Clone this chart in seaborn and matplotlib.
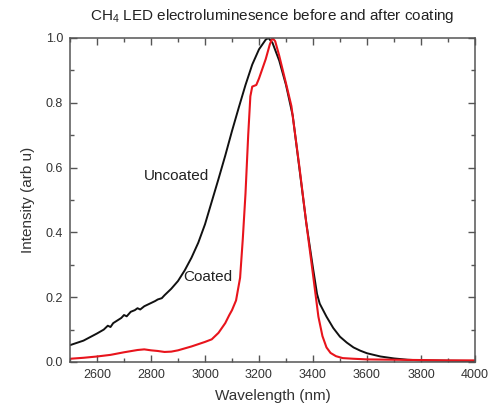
import matplotlib
matplotlib.use("Agg")
import matplotlib.pyplot as plt
from matplotlib.ticker import MultipleLocator, FormatStrFormatter
import pandas as pd
import seaborn as sns

# Electroluminescence spectra (normalised intensity vs wavelength in nm)
wl_uncoated = [2500, 2550, 2600, 2625, 2640, 2650, 2660, 2675, 2690, 2700, 2710,
               2725, 2740, 2750, 2760, 2775, 2790, 2800, 2815, 2825, 2840, 2850,
               2875, 2900, 2925, 2950, 2975, 3000, 3025, 3050, 3075, 3100, 3125,
               3150, 3175, 3200, 3225, 3235, 3250, 3275, 3300, 3325, 3350, 3375,
               3400, 3415, 3425, 3450, 3475, 3500, 3525, 3550, 3575, 3600, 3650,
               3700, 3750, 3800, 3900, 4000]
int_uncoated = [0.052, 0.066, 0.088, 0.100, 0.112, 0.108, 0.120, 0.128, 0.136, 0.145, 0.141,
                0.155, 0.160, 0.166, 0.162, 0.172, 0.178, 0.182, 0.188, 0.193, 0.197, 0.206,
                0.226, 0.250, 0.283, 0.322, 0.368, 0.425, 0.495, 0.565, 0.637, 0.713, 0.785,
                0.855, 0.918, 0.965, 0.995, 1.000, 0.985, 0.930, 0.855, 0.760, 0.595, 0.430,
                0.290, 0.210, 0.180, 0.140, 0.105, 0.078, 0.060, 0.045, 0.035, 0.027, 0.017,
                0.011, 0.007, 0.005, 0.004, 0.003]

wl_coated = [2500, 2550, 2600, 2650, 2700, 2750, 2775, 2800, 2825, 2850, 2875,
             2900, 2925, 2950, 2975, 3000, 3025, 3050, 3075, 3090, 3100, 3115,
             3130, 3140, 3150, 3160, 3168, 3175, 3190, 3200, 3225, 3240, 3250,
             3260, 3275, 3300, 3320, 3350, 3375, 3400, 3420, 3435, 3450, 3465,
             3485, 3510, 3550, 3600, 3700, 3800, 3900, 4000]
int_coated = [0.010, 0.013, 0.017, 0.022, 0.030, 0.037, 0.039, 0.036, 0.034, 0.031, 0.032,
              0.036, 0.042, 0.048, 0.055, 0.062, 0.070, 0.090, 0.120, 0.145, 0.160, 0.190,
              0.260, 0.380, 0.520, 0.700, 0.820, 0.850, 0.855, 0.875, 0.935, 0.980, 1.000,
              0.990, 0.945, 0.860, 0.790, 0.600, 0.430, 0.270, 0.140, 0.080, 0.045, 0.028,
              0.018, 0.012, 0.010, 0.008, 0.007, 0.006, 0.005, 0.005]

uncoated = pd.DataFrame({"wavelength": wl_uncoated, "intensity": int_uncoated})
coated = pd.DataFrame({"wavelength": wl_coated, "intensity": int_coated})

sns.set_style("ticks")
plt.rcParams["font.family"] = ["Liberation Sans", "DejaVu Sans"]
plt.rcParams["mathtext.default"] = "regular"

fig = plt.figure(figsize=(4.92, 4.17), dpi=100)
ax = fig.add_axes([0.1423, 0.1319, 0.8231, 0.777])

sns.lineplot(data=uncoated, x="wavelength", y="intensity", color="#111111",
             linewidth=1.4, ax=ax)
sns.lineplot(data=coated, x="wavelength", y="intensity", color="#e8141c",
             linewidth=1.5, ax=ax)

ax.set_xlim(2500, 4000)
ax.set_ylim(0, 1.0)
ax.xaxis.set_minor_locator(MultipleLocator(100))
ax.yaxis.set_major_locator(MultipleLocator(0.2))
ax.yaxis.set_minor_locator(MultipleLocator(0.1))
ax.set_xticks([2600, 2800, 3000, 3200, 3400, 3600, 3800, 4000])
ax.yaxis.set_major_formatter(FormatStrFormatter("%.1f"))

ax.tick_params(which="both", direction="in", top=True, right=True,
               color="#555555", labelsize=9, labelcolor="#333333", pad=5)
ax.tick_params(which="major", length=5, width=1)
ax.tick_params(which="minor", length=3, width=1)
for sp in ax.spines.values():
    sp.set_color("#555555")
    sp.set_linewidth(1.1)
    sp.set_visible(True)

ax.set_xlabel("Wavelength (nm)", fontsize=11, color="#333333", labelpad=6)
ax.set_ylabel("Intensity (arb u)", fontsize=11, color="#333333", labelpad=8)
ax.set_title("CH$_4$ LED electroluminesence before and after coating",
             fontsize=11, color="#222222", pad=13)

ax.text(2893, 0.575, "Uncoated", fontsize=11, color="#222222", ha="center", va="center")
ax.text(3011, 0.262, "Coated", fontsize=11, color="#222222", ha="center", va="center")

fig.savefig("out.png", dpi=100)
